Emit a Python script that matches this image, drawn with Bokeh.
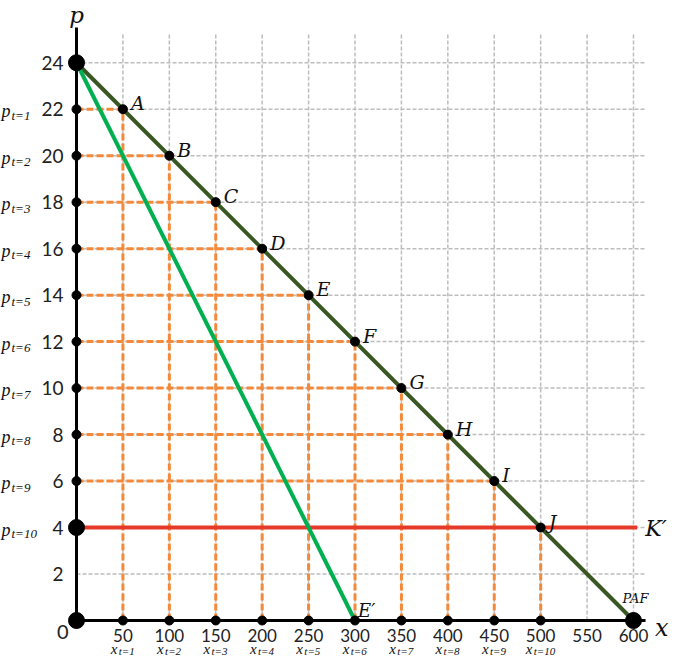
from bokeh.plotting import figure
from bokeh.models import Range1d
from bokeh.core.properties import value
from bokeh.embed import file_html
from bokeh.resources import INLINE

# ---------------- data ----------------
point_labels = ["A", "B", "C", "D", "E", "F", "G", "H", "I", "J"]
x_points = [50, 100, 150, 200, 250, 300, 350, 400, 450, 500]
p_points = [22, 20, 18, 16, 14, 12, 10, 8, 6, 4]
period_labels = ["t=1", "t=2", "t=3", "t=4", "t=5", "t=6", "t=7", "t=8", "t=9", "t=10"]
p_max = 24
x_paf = 600
x_eprime = 300
p_floor = 4
x_ticks = [50, 100, 150, 200, 250, 300, 350, 400, 450, 500, 550, 600]
x_tick_labels = ["50", "100", "150", "200", "250", "300", "350", "400", "450", "500", "550", "600"]
p_ticks = [2, 4, 6, 8, 10, 12, 14, 16, 18, 20, 22, 24]
p_tick_labels = ["2", "4", "6", "8", "10", "12", "14", "16", "18", "20", "22", "24"]

# ---------------- geometry / style ----------------
W, H = 669, 655
X0_PX, XS = 76.0, 0.92833
Y0_PX, YS = 620.0, 23.24
GRID_TOP = 25.26
GRID_RIGHT = 613
AXIS_TOP = 25.52
AXIS_RIGHT = 613
RED_END = 604

GRAY = "#BDBDBD"
ORANGE = "#F4893A"
DARK_GREEN = "#385723"
BRIGHT_GREEN = "#00B050"
RED = "#E53A2A"
SERIF = value("DejaVu Serif")
SERIF2 = value("Liberation Serif")
SANS = value("Lato")
INK = "#111111"

p = figure(width=W, height=H,
           x_range=Range1d(-X0_PX / XS, (W - X0_PX) / XS),
           y_range=Range1d((Y0_PX - H) / YS, Y0_PX / YS),
           output_backend="svg", toolbar_location=None,
           x_axis_location=None, y_axis_location=None,
           min_border=0)
p.grid.visible = False
p.outline_line_color = None
p.background_fill_color = "white"
p.border_fill_color = "white"

# gray dashed grid
p.segment(x0=x_ticks, y0=[0] * len(x_ticks), x1=x_ticks, y1=[GRID_TOP] * len(x_ticks),
          line_color=GRAY, line_width=1.5, line_dash="4 2")
p.segment(x0=[0] * len(p_ticks), y0=p_ticks, x1=[GRID_RIGHT] * len(p_ticks), y1=p_ticks,
          line_color=GRAY, line_width=1.5, line_dash="4 2")

# orange dashed projections
p.segment(x0=[0] * len(x_points), y0=p_points, x1=x_points, y1=p_points,
          line_color=ORANGE, line_width=3, line_dash="7 3")
p.segment(x0=x_points, y0=[0] * len(x_points), x1=x_points, y1=p_points,
          line_color=ORANGE, line_width=3, line_dash="7 3")

# red floor line
p.line([0, RED_END], [p_floor, p_floor], line_color=RED, line_width=4)

# demand lines
p.line([0, x_paf], [p_max, 0], line_color=DARK_GREEN, line_width=4)
p.line([0, x_eprime], [p_max, 0], line_color=BRIGHT_GREEN, line_width=4)

# axes
p.line([0, 0], [0, AXIS_TOP], line_color="black", line_width=3)
p.line([0, AXIS_RIGHT], [0, 0], line_color="black", line_width=3)

# dots
p.scatter(x=x_points, y=p_points, size=9, color="black")
p.scatter(x=[0] * (len(p_points) - 1), y=p_points[:-1], size=9, color="black")
p.scatter(x=x_points, y=[0] * len(x_points), size=9, color="black")
p.scatter(x=[0, 0, 0, x_paf], y=[p_max, p_floor, 0, 0], size=16, color="black")

# point labels
p.text(x=x_points, y=p_points, text=point_labels, x_offset=8, y_offset=-6,
       text_font=SERIF, text_font_style="italic", text_font_size="19px",
       text_align="left", text_baseline="alphabetic", text_color=INK)
p.text(x=[x_eprime], y=[0], text=["E\u2032"], x_offset=3, y_offset=-10,
       text_font=SERIF, text_font_style="italic", text_font_size="18px",
       text_align="left", text_baseline="alphabetic", text_color=INK)
p.text(x=[RED_END], y=[p_floor], text=["K\u2032"], x_offset=8, y_offset=1,
       text_font=SERIF, text_font_style="italic", text_font_size="22px",
       text_align="left", text_baseline="middle", text_color=INK)
p.text(x=[x_paf], y=[0], text=["PAF"], x_offset=2, y_offset=-22,
       text_font=SERIF, text_font_style="italic", text_font_size="13px",
       text_align="center", text_baseline="alphabetic", text_color=INK)

# axis names
p.text(x=[0], y=[AXIS_TOP], text=["p"], x_offset=0, y_offset=-12,
       text_font=SERIF, text_font_style="italic", text_font_size="23px",
       text_align="center", text_baseline="alphabetic", text_color=INK)
p.text(x=[AXIS_RIGHT], y=[0], text=["x"], x_offset=23, y_offset=7,
       text_font=SERIF, text_font_style="italic", text_font_size="24px",
       text_align="right", text_baseline="middle", text_color=INK)

# tick labels
p.text(x=[0] * len(p_ticks), y=p_ticks, text=p_tick_labels, x_offset=-13, y_offset=0,
       text_font=SANS, text_font_size="19px", text_align="right",
       text_baseline="middle", text_color="#222222")
p.text(x=[0], y=[0], text=["0"], x_offset=-8, y_offset=11,
       text_font=SANS, text_font_size="20px", text_align="right",
       text_baseline="middle", text_color="#222222")
p.text(x=x_ticks, y=[0] * len(x_ticks), text=x_tick_labels, x_offset=0, y_offset=15,
       text_font=SANS, text_font_size="17px", text_align="center",
       text_baseline="middle", text_color="#222222")

# p_{t=k} labels (left)
p.text(x=[0] * len(p_points), y=p_points, text=["p"] * len(p_points), x_offset=-75, y_offset=2,
       text_font=SERIF2, text_font_style="italic", text_font_size="18px",
       text_align="left", text_baseline="alphabetic", text_color=INK)
p.text(x=[0] * len(p_points), y=p_points, text=period_labels, x_offset=-65, y_offset=6,
       text_font=SERIF2, text_font_style="italic", text_font_size="13px",
       text_align="left", text_baseline="alphabetic", text_color=INK)

# x_{t=k} labels (bottom)
sub_w = [5.5 * len(s) for s in period_labels]
x_letter_off = [-(8 + w) / 2 for w in sub_w]
sub_off = [o + 8 for o in x_letter_off]
p.text(x=x_points, y=[0] * len(x_points), text=["x"] * len(x_points), x_offset=x_letter_off, y_offset=28,
       text_font=SERIF2, text_font_style="italic", text_font_size="15px",
       text_align="left", text_baseline="alphabetic", text_color=INK)
p.text(x=x_points, y=[0] * len(x_points), text=period_labels, x_offset=sub_off, y_offset=30,
       text_font=SERIF2, text_font_style="italic", text_font_size="11px",
       text_align="left", text_baseline="alphabetic", text_color=INK)

open("out.html", "w").write(file_html(p, INLINE))
